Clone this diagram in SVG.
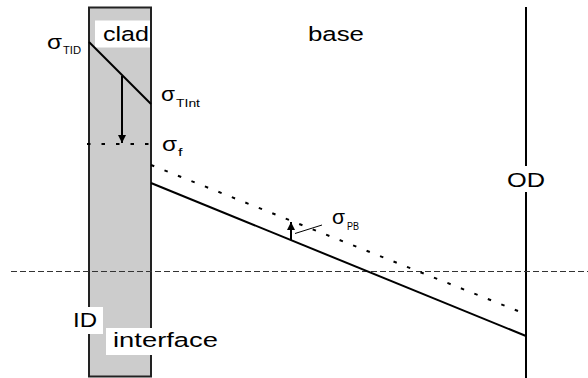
<svg xmlns="http://www.w3.org/2000/svg" width="588" height="378" viewBox="0 0 588 378">
<style>
text{font-family:"Liberation Sans",Arial,sans-serif;fill:#000}
.lbl{font-size:20.5px}
.sig{font-size:20px}
.sub{font-size:10px}
.solid{stroke:#000;stroke-width:2;fill:none}
.dot{stroke:#000;stroke-width:2;fill:none;stroke-dasharray:3.5 11}
.box{fill:#fff;stroke:none}
</style>
<defs>
<marker id="ah" viewBox="0 0 10 10" refX="10" refY="5" markerWidth="4" markerHeight="4" orient="auto-start-reverse" markerUnits="strokeWidth">
<path d="M0,0 L10,5 L0,10 Z" fill="#000"/>
</marker>
</defs>
<rect width="588" height="378" fill="#fff"/>
<g id="clad">
<rect x="89" y="7.5" width="62" height="369" fill="#cccccc" stroke="#222" stroke-width="2"/>
<rect class="box" x="95" y="20.5" width="55" height="27"/>
<text class="lbl" x="103" y="41" textLength="46" lengthAdjust="spacingAndGlyphs">clad</text>
</g>
<g id="base"><text class="lbl" x="308" y="41" textLength="56" lengthAdjust="spacingAndGlyphs">base</text></g>
<g id="od">
<line class="solid" x1="526" y1="7" x2="526" y2="378"/>
<rect class="box" x="504" y="166" width="44" height="26"/>
<text class="lbl" x="507" y="187" textLength="38" lengthAdjust="spacingAndGlyphs">OD</text>
</g>
<g id="id">
<rect class="box" x="72" y="307" width="31" height="27"/>
<text class="lbl" x="73" y="327" textLength="24" lengthAdjust="spacingAndGlyphs">ID</text>
</g>
<g id="interface">
<rect class="box" x="106" y="328" width="115" height="27"/>
<text class="lbl" x="113" y="347" textLength="105" lengthAdjust="spacingAndGlyphs">interface</text>
</g>
<g id="connectors">
<line x1="11" y1="271.5" x2="588" y2="271.5" stroke="#333" stroke-width="1" stroke-dasharray="6 3"/>
<line class="solid" x1="89" y1="42" x2="151" y2="104"/>
<line class="solid" x1="122" y1="76" x2="122" y2="143" marker-end="url(#ah)"/>
<line class="dot" x1="87" y1="144" x2="151" y2="144"/>
<line class="dot" x1="151" y1="165" x2="518" y2="311"/>
<line class="solid" x1="151" y1="183" x2="526" y2="336"/>
<line class="solid" x1="291" y1="240" x2="291" y2="222" marker-end="url(#ah)"/>
<line x1="322" y1="225" x2="295" y2="233.5" stroke="#000" stroke-width="1"/>
</g>
<g id="sigma-tid">
<text class="sig" x="47" y="49" textLength="15" lengthAdjust="spacingAndGlyphs">σ</text>
<text class="sub" x="63" y="53.5" textLength="18" lengthAdjust="spacingAndGlyphs">TID</text>
</g>
<g id="sigma-tint">
<text class="sig" x="161" y="101" textLength="14" lengthAdjust="spacingAndGlyphs">σ</text>
<text class="sub" x="176" y="107" textLength="24" lengthAdjust="spacingAndGlyphs">TInt</text>
</g>
<g id="sigma-f">
<text class="sig" x="162" y="150.7" textLength="15" lengthAdjust="spacingAndGlyphs">σ</text>
<text class="sub" x="178" y="156" textLength="4.5" lengthAdjust="spacingAndGlyphs">f</text>
</g>
<g id="sigma-pb">
<text class="sig" x="332" y="224" textLength="13" lengthAdjust="spacingAndGlyphs">σ</text>
<text class="sub" x="347" y="230" textLength="12" lengthAdjust="spacingAndGlyphs">PB</text>
</g>
</svg>
